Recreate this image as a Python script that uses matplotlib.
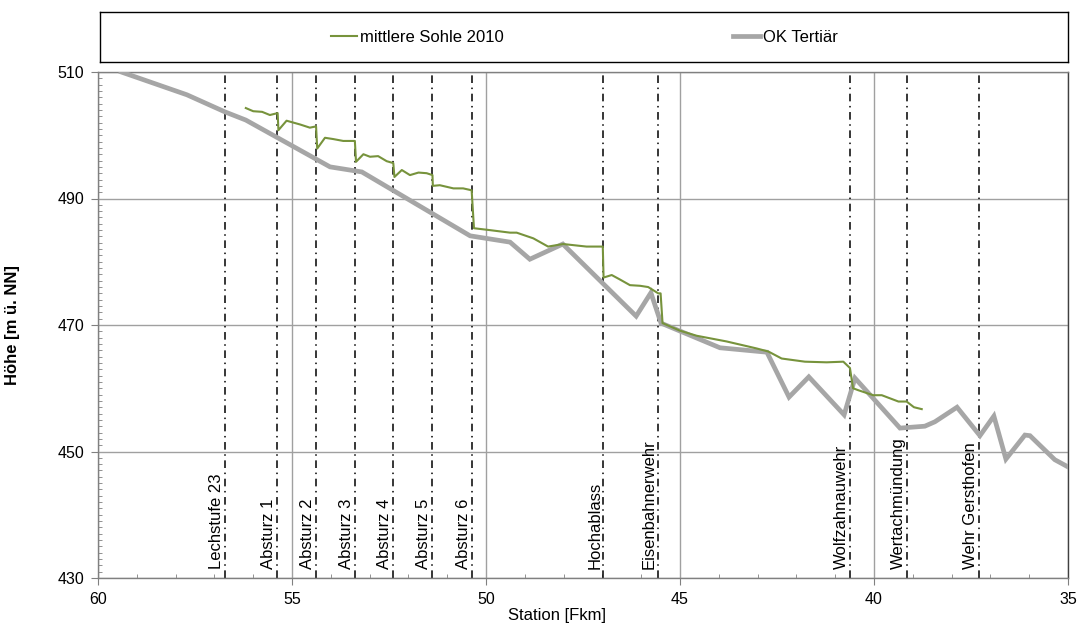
import numpy as np
import matplotlib
matplotlib.use("Agg")
from matplotlib import pyplot as plt
from matplotlib.lines import Line2D
from matplotlib.ticker import MultipleLocator
import matplotlib.transforms as mtransforms

plt.rcParams['font.family'] = ['Liberation Sans', 'DejaVu Sans']
plt.rcParams['font.size'] = 12

# Gewässersohle 2010 (Fkm, m ü. NN)
sohle_km = [56.19, 56.00, 55.77, 55.57, 55.37, 55.35, 55.14, 54.79, 54.54, 54.38,
            54.35, 54.15, 53.94, 53.68, 53.38, 53.35, 53.16, 52.99, 52.78, 52.56,
            52.39, 52.36, 52.17, 51.96, 51.74, 51.53, 51.38, 51.37, 51.19, 50.84,
            50.59, 50.37, 50.31, 49.90, 49.38, 49.21, 48.78, 48.40, 48.01, 47.41,
            46.99, 46.97, 46.76, 46.55, 46.29, 46.03, 45.82, 45.56, 45.50, 45.45,
            45.00, 44.57, 43.80, 43.03, 42.72, 42.38, 41.78, 41.22, 40.79, 40.62,
            40.54, 40.41, 40.02, 39.80, 39.37, 39.16, 38.97, 38.77]
sohle_h = [504.3, 503.8, 503.7, 503.2, 503.5, 500.8, 502.3, 501.7, 501.2, 501.4,
           497.9, 499.6, 499.4, 499.1, 499.1, 495.8, 497.0, 496.6, 496.7, 495.9,
           495.6, 493.4, 494.5, 493.7, 494.1, 494.0, 493.7, 492.0, 492.1, 491.6,
           491.6, 491.3, 485.3, 485.0, 484.6, 484.6, 483.7, 482.4, 482.8, 482.4,
           482.4, 477.5, 477.9, 477.2, 476.3, 476.2, 476.0, 475.0, 475.0, 470.3,
           469.1, 468.3, 467.4, 466.3, 465.8, 464.7, 464.2, 464.1, 464.2, 463.2,
           460.0, 459.7, 458.9, 458.9, 457.9, 457.9, 457.0, 456.7]

# Oberkante Tertiär
tertiaer_km = [59.40, 57.71, 56.73, 56.19, 54.02, 53.20, 50.41, 49.38, 48.87, 48.02,
               46.13, 45.75, 45.49, 43.97, 42.76, 42.19, 41.68, 40.77, 40.49, 39.33,
               38.69, 38.43, 37.86, 37.27, 36.91, 36.60, 36.11, 35.98, 35.34, 34.95]
tertiaer_h = [510.0, 506.4, 503.7, 502.4, 495.0, 494.2, 484.1, 483.1, 480.4, 482.8,
              471.4, 475.1, 470.3, 466.4, 465.7, 458.6, 461.8, 455.8, 461.6, 453.7,
              454.0, 454.7, 457.0, 452.5, 455.6, 448.8, 452.6, 452.5, 448.7, 447.4]

# Bauwerke / Abstürze
bauwerk_km = [56.73, 55.39, 54.38, 53.38, 52.40, 51.39, 50.36, 46.98, 45.57,
              40.62, 39.15, 37.29]
bauwerk_name = ['Lechstufe 23', 'Absturz 1', 'Absturz 2', 'Absturz 3', 'Absturz 4',
                'Absturz 5', 'Absturz 6', 'Hochablass', 'Eisenbahnerwehr',
                'Wolfzahnauwehr', 'Wertachmündung', 'Wehr Gersthofen']

hoehe_ticks = [430, 450, 470, 490, 510]

gruen = '#77933c'
grau = '#a6a6a6'

fig = plt.figure(figsize=(10.78, 6.25), dpi=100)
ax = fig.add_axes([98 / 1078, 1 - 578 / 625, 970 / 1078, 506 / 625])

ax.set_xlim(60, 35)
ax.set_ylim(430, 510)
ax.xaxis.set_major_locator(MultipleLocator(5))
ax.xaxis.set_minor_locator(MultipleLocator(1))
ax.set_yticks(hoehe_ticks)
ax.yaxis.set_minor_locator(MultipleLocator(1))
ax.tick_params(which='major', direction='out', length=5, color='#808080',
               labelsize=11.5, pad=5)
ax.tick_params(which='minor', direction='in', length=3, color='#808080')
ax.grid(True, which='major', color='#a0a0a0', linewidth=1.0)
ax.set_axisbelow(True)
for s in ax.spines.values():
    s.set_color('#808080')
    s.set_linewidth(1.0)
ax.spines['right'].set_color('#404040')

for km in bauwerk_km:
    ax.axvline(km, color='black', linewidth=1.1, linestyle=(0, (5, 3, 1, 3)), zorder=2)

ax.plot(tertiaer_km, tertiaer_h, color=grau, linewidth=3.4, zorder=3, solid_joinstyle='miter')
ax.plot(sohle_km, sohle_h, color=gruen, linewidth=1.5, zorder=4)

trans = mtransforms.blended_transform_factory(ax.transData, ax.transAxes)
offset = mtransforms.ScaledTranslation(-1 / 100, 0, fig.dpi_scale_trans)
for km, name in zip(bauwerk_km, bauwerk_name):
    ax.text(km, 0.018, name, rotation=90, ha='right', va='bottom',
            transform=trans + offset, fontsize=12, zorder=5)

ax.set_ylabel('Höhe [m ü. NN]', fontweight='bold', fontsize=12)
ax.yaxis.set_label_coords(-0.08, 0.5)
fig.text(557 / 1078, 1 - 608 / 625, 'Station [Fkm]', ha='center', va='top', fontsize=12)

# Legende im eigenen Rahmen über dem Diagramm
lax = fig.add_axes([100 / 1078, 1 - 62 / 625, 968 / 1078, 50 / 625])
lax.set_xticks([])
lax.set_yticks([])
for s in lax.spines.values():
    s.set_color('black')
    s.set_linewidth(1.0)
handles = [Line2D([], [], color=gruen, linewidth=1.5),
           Line2D([], [], color=grau, linewidth=3.4)]
lax.legend(handles, ['mittlere Sohle 2010', 'OK Tertiär'], loc='center', ncol=2,
           frameon=False, fontsize=12, handlelength=1.6, handletextpad=0.15,
           columnspacing=13.8, bbox_to_anchor=(0.5, 0.5))

fig.savefig('out.png', dpi=100)
